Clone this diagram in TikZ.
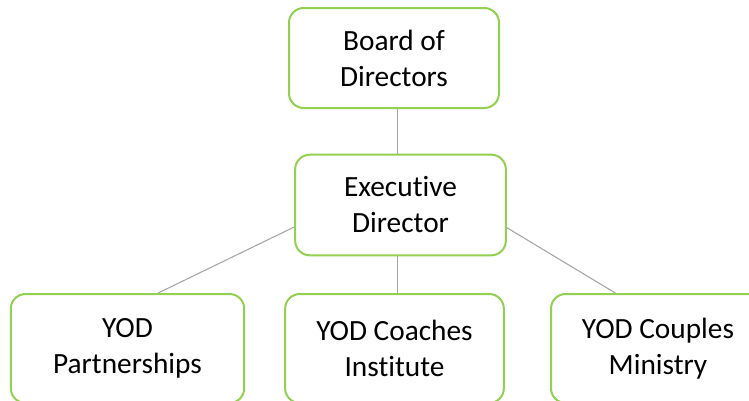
\documentclass[tikz,border=0pt]{standalone}
\usepackage{fontspec}
\setmainfont{Carlito}[Ligatures=NoCommon]
\definecolor{boxgreen}{HTML}{92D050}
\definecolor{linegray}{HTML}{A6A6A6}
\begin{document}
\begin{tikzpicture}[x=0.75pt,y=-0.75pt,
  orgbox/.style={draw=boxgreen, line width=1.5pt, rounded corners=11pt, fill=white,
    align=center, font=\fontsize{22}{27}\selectfont, inner sep=0pt,
    execute at begin node={\rule{0pt}{20pt}}},
  conn/.style={draw=linegray, line width=0.8pt}]
\useasboundingbox (0,0) rectangle (749,400);
\node[orgbox, minimum width=157.5pt, minimum height=75pt] (board) at (394,58) {Board of\\Directors};
\node[orgbox, minimum width=158pt, minimum height=75.5pt] (exec) at (400.5,205) {Executive\\Director};
\node[orgbox, minimum width=175pt, minimum height=81.75pt] (part) at (127.5,348.5) {YOD\\Partnerships};
\node[orgbox, minimum width=164pt, minimum height=81.75pt] (coach) at (394.5,348.5) {YOD Coaches\\Institute};
\node[orgbox, minimum width=160.5pt, minimum height=81.75pt] (couple) at (658,348.5) {YOD Couples\\Ministry};
\draw[conn] ([xshift=-2pt]exec.north) -- ([xshift=-2pt]exec.north |- board.south);
\draw[conn] ([xshift=2pt]coach.north) -- ([xshift=2pt]coach.north |- exec.south);
\draw[conn] ([yshift=-16.5pt]exec.west) -- ([xshift=23pt]part.north);
\draw[conn] ([yshift=-17pt]exec.east) -- ([xshift=-32pt]couple.north);
\end{tikzpicture}
\end{document}
